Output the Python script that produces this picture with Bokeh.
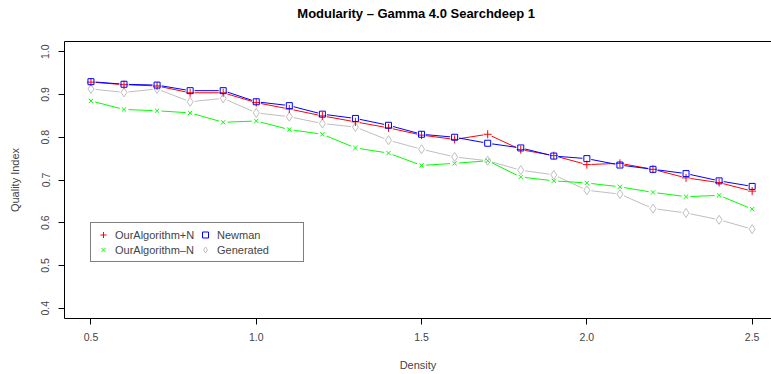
from bokeh.plotting import figure
from bokeh.models import (Legend, LegendItem, FixedTicker, PrintfTickFormatter,
                          ColumnDataSource, LinearAxis)
from bokeh.embed import file_html
from bokeh.resources import INLINE

density = [0.5, 0.6, 0.7, 0.8, 0.9, 1.0, 1.1, 1.2, 1.3, 1.4, 1.5,
           1.6, 1.7, 1.8, 1.9, 2.0, 2.1, 2.2, 2.3, 2.4, 2.5]
our_plus = [0.929, 0.923, 0.920, 0.904, 0.904, 0.881, 0.866, 0.850, 0.836, 0.822, 0.805,
            0.795, 0.807, 0.771, 0.757, 0.736, 0.739, 0.725, 0.705, 0.694, 0.674]
our_minus = [0.885, 0.865, 0.862, 0.857, 0.835, 0.838, 0.818, 0.807, 0.775, 0.763, 0.734,
             0.739, 0.745, 0.707, 0.698, 0.693, 0.684, 0.671, 0.661, 0.664, 0.632]
newman = [0.930, 0.924, 0.922, 0.909, 0.909, 0.883, 0.874, 0.854, 0.844, 0.828, 0.807,
          0.800, 0.786, 0.775, 0.756, 0.750, 0.735, 0.725, 0.715, 0.698, 0.685]
generated = [0.913, 0.905, 0.913, 0.883, 0.891, 0.857, 0.848, 0.832, 0.824, 0.793, 0.772,
             0.754, 0.745, 0.723, 0.712, 0.676, 0.667, 0.633, 0.623, 0.607, 0.585]

x_ticks = [0.5, 1.0, 1.5, 2.0, 2.5]
y_ticks = [0.4, 0.5, 0.6, 0.7, 0.8, 0.9, 1.0]

title_text = "Modularity –  Gamma 4.0 Searchdeep 1"

# name, values, colour, marker, size
series = [
    ("Generated", generated, "#BEBEBE", "diamond", 9),
    ("OurAlgorithm–N", our_minus, "#00FF00", "x", 6),
    ("OurAlgorithm+N", our_plus, "#FF0000", "cross", 8),
    ("Newman", newman, "#0000FF", "square", 6),
]

FONT = "Liberation Sans"

p = figure(width=771, height=374, output_backend="svg", toolbar_location=None,
           x_range=(0.42, 2.5585), y_range=(0.376, 1.024),
           min_border_left=64, min_border_right=0, min_border_top=41, min_border_bottom=56)
p.xgrid.grid_line_color = None
p.ygrid.grid_line_color = None
p.outline_line_color = None
p.background_fill_color = "white"
p.border_fill_color = "white"

xa = p.below[0]
ya = p.left[0]

for ax in (xa, ya):
    ax.major_tick_out = 6
    ax.major_tick_in = 0
    ax.minor_tick_line_color = None
    ax.major_label_standoff = 8
    ax.major_label_text_font = FONT
    ax.major_label_text_font_size = "10.5px"
    ax.axis_label_text_font = FONT
    ax.axis_label_text_font_size = "11px"
    ax.axis_label_text_font_style = "normal"
    ax.axis_line_color = "black"
    ax.major_tick_line_color = "black"
    ax.formatter = PrintfTickFormatter(format="%.1f")

xa.axis_label_standoff = 15
ya.axis_label_standoff = 18
ya.major_label_standoff = 9
xa.ticker = FixedTicker(ticks=x_ticks)
ya.ticker = FixedTicker(ticks=y_ticks)
ya.major_label_orientation = "vertical"
xa.axis_label = "Density"
ya.axis_label = "Quality Index"

# top side of the box: an axis without ticks that carries the chart title
top_axis = LinearAxis(ticker=FixedTicker(ticks=[]), major_tick_out=0, major_tick_in=0,
                      major_tick_line_color=None, minor_tick_line_color=None,
                      major_label_standoff=0, axis_line_color="black",
                      axis_label=title_text, axis_label_standoff=21,
                      axis_label_text_font=FONT, axis_label_text_font_size="13px",
                      axis_label_text_font_style="bold", axis_label_text_color="black")
p.add_layout(top_axis, "above")

sources = {}
for name, vals, color, marker, size in series:
    src = ColumnDataSource(dict(x=density, y=vals))
    sources[name] = src
    p.line("x", "y", source=src, line_color=color, line_width=1)

for name, vals, color, marker, size in series:
    p.scatter("x", "y", source=sources[name], marker="circle", size=9,
              fill_color="white", line_color=None)

renderers = {}
for name, vals, color, marker, size in series:
    renderers[name] = p.scatter("x", "y", source=sources[name], marker=marker, size=size,
                                fill_color=None, line_color=color, line_width=1)

legend = Legend(items=[
    LegendItem(label="OurAlgorithm+N", renderers=[renderers["OurAlgorithm+N"]]),
    LegendItem(label="OurAlgorithm–N", renderers=[renderers["OurAlgorithm–N"]]),
    LegendItem(label="Newman", renderers=[renderers["Newman"]]),
    LegendItem(label="Generated", renderers=[renderers["Generated"]]),
], location=(26, 56), orientation="vertical", ncols=2,
    padding=4, spacing=0, margin=0, glyph_width=16, glyph_height=15,
    label_height=15, label_width=82, label_standoff=4,
    label_text_font=FONT, label_text_font_size="11px",
    border_line_color="black", border_line_width=1, background_fill_color="white")
p.add_layout(legend)

open("out.html", "w").write(file_html(p, INLINE))
